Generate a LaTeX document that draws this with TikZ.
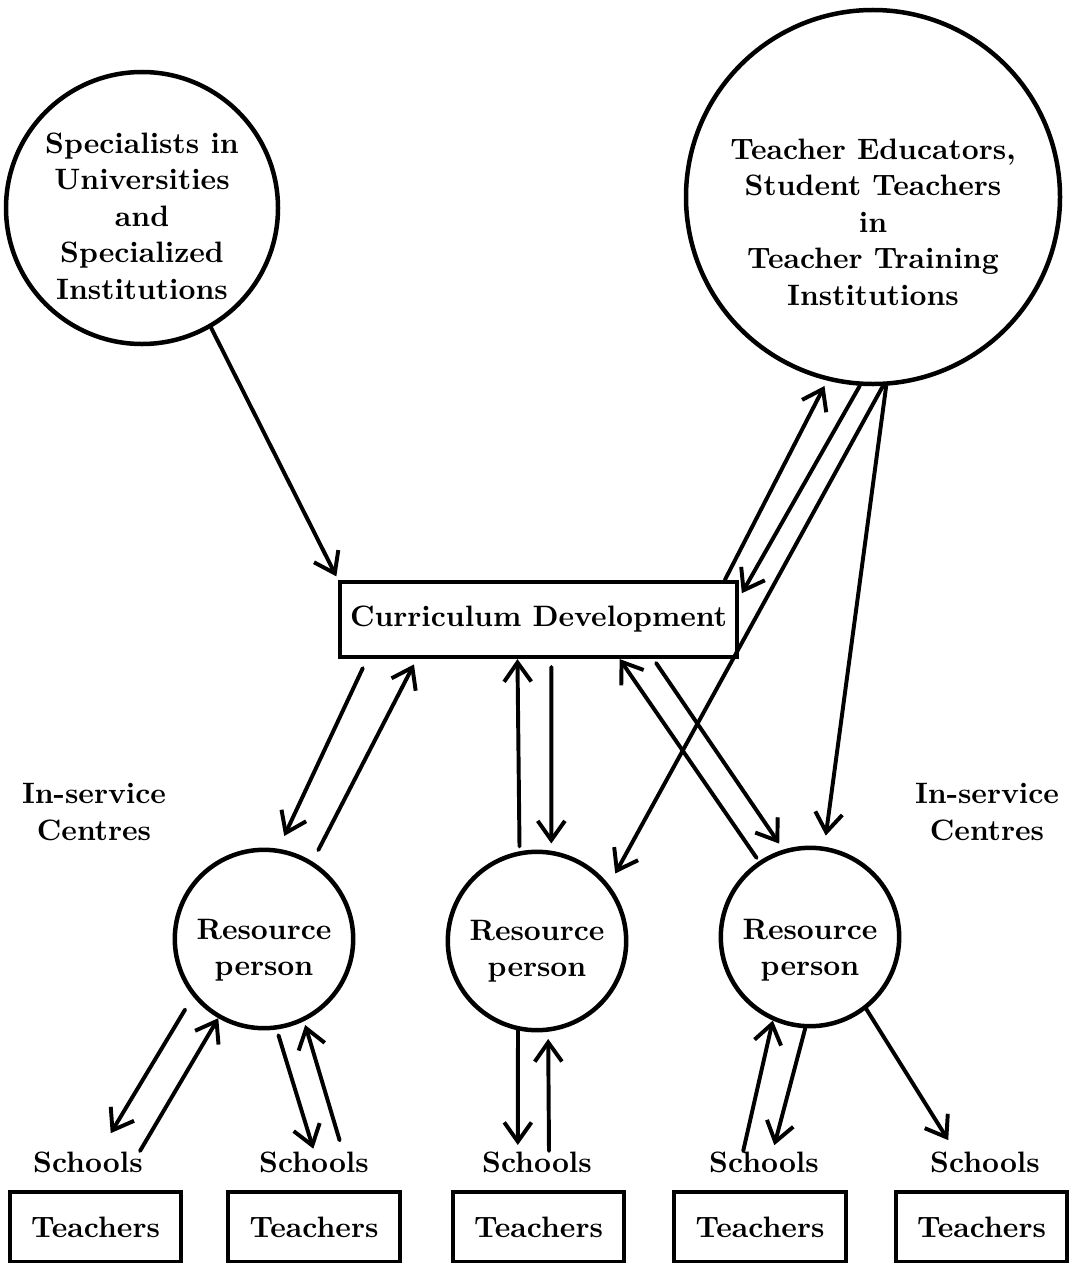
\documentclass[tikz,border=0pt]{standalone}
\usetikzlibrary{arrows.meta}
\begin{document}
\begin{tikzpicture}[x=0.125mm,y=-0.125mm,
  every node/.style={font=\fontsize{10.5}{13}\selectfont\bfseries},
  ring/.style={draw,circle,line width=1.6pt,inner sep=0pt},
  box/.style={draw,rectangle,line width=1.4pt,inner sep=0pt},
  lbl/.style={align=center,inner sep=0pt},
  arr/.style={-{Straight Barb[length=2.4mm,width=3.4mm]},line width=1.4pt},
  line cap=round]
\useasboundingbox (0,0) rectangle (1082,1263);

\node[ring,minimum size=34mm] (spec) at (142,208) {};
\node[lbl] (spect) at (142,216) {Specialists in\\Universities\\and\\Specialized\\Institutions};

\node[ring,minimum size=46.75mm] (tti) at (873,197) {};
\node[lbl] (ttit) at (873,222) {Teacher Educators,\\Student Teachers\\in\\Teacher Training\\Institutions};

\node[box,minimum width=49.6mm,minimum height=9.4mm] (cd) at (538.5,619.5) {Curriculum Development};

\node[lbl] (isc1) at (94,812) {In-service\\Centres};
\node[lbl] (isc2) at (987,812) {In-service\\Centres};

\node[ring,minimum size=22.3mm] (rp1) at (264,939) {};
\node[ring,minimum size=22.3mm] (rp2) at (537,941) {};
\node[ring,minimum size=22.3mm] (rp3) at (810,937) {};
\node[lbl] (rp1t) at (264,950) {Resource\\person};
\node[lbl] (rp2t) at (537,951) {Resource\\person};
\node[lbl] (rp3t) at (810,950) {Resource\\person};

\node[lbl] (sch1) at (88,1162) {Schools};
\node[lbl] (sch2) at (314,1162) {Schools};
\node[lbl] (sch3) at (537,1162) {Schools};
\node[lbl] (sch4) at (764,1162) {Schools};
\node[lbl] (sch5) at (985,1162) {Schools};

\node[box,minimum width=21.4mm,minimum height=8.75mm] (tch1) at (95.5,1227) {Teachers};
\node[box,minimum width=21.4mm,minimum height=8.75mm] (tch2) at (314,1227) {Teachers};
\node[box,minimum width=21.4mm,minimum height=8.75mm] (tch3) at (538.5,1227) {Teachers};
\node[box,minimum width=21.4mm,minimum height=8.75mm] (tch4) at (760,1227) {Teachers};
\node[box,minimum width=21.4mm,minimum height=8.75mm] (tch5) at (981.5,1227) {Teachers};

\draw[arr,shorten >=0.5mm] (spec.300.6) -- (cd.north west);

\draw[arr,shorten >=0.75mm] ([xshift=-1.75mm]cd.north east) -- (tti.256.5);
\draw[arr,shorten >=0.75mm] (tti.266) -- (cd.6);
\draw[arr,shorten >=1.6mm] (tti.273) -- (rp2.38);
\draw[arr,shorten >=1.4mm] (tti.274) -- (rp3.81);

\draw[arr,shorten <=1.25mm,shorten >=1.75mm] (cd.193.6) -- (rp1.81);
\draw[arr,shorten <=1.6mm,shorten >=0.75mm] (rp1.58.6) -- (cd.198.7);
\draw[arr,shorten <=0.6mm] (rp2.101) -- (cd.242.5);
\draw[arr,shorten <=1mm,shorten >=0.9mm] (cd.288.4) -- (rp2.81.7);
\draw[arr,shorten <=0.5mm] (rp3.124) -- (cd.334.5);
\draw[arr,shorten <=0.6mm,shorten >=0.9mm] (cd.341.4) -- (rp3.107);

\draw[arr,shorten <=1.9mm,shorten >=2.6mm] (rp1.219) -- ([xshift=1.5mm]sch1.north);
\draw[arr] ([xshift=6.5mm]sch1.north) -- (rp1.240);
\draw[arr,shorten <=0.75mm,shorten >=0.3mm] (rp1.278.5) -- (sch2.north);
\draw[arr,shorten <=1.4mm,shorten >=0.5mm] ([xshift=3.6mm]sch2.north) -- (rp1.296);
\draw[arr,shorten >=0.75mm] (rp2.258) -- ([xshift=-2.4mm]sch3.north);
\draw[arr,shorten >=0.9mm] ([xshift=1.5mm]sch3.north) -- (rp2.277);
\draw[arr] ([xshift=-2.6mm]sch4.north) -- (rp3.246.5);
\draw[arr,shorten >=0.75mm] (rp3.267) -- ([xshift=1.1mm]sch4.north);
\draw[arr,shorten >=1.6mm] (rp3.308) -- ([xshift=-3.75mm]sch5.north);
\end{tikzpicture}
\end{document}
